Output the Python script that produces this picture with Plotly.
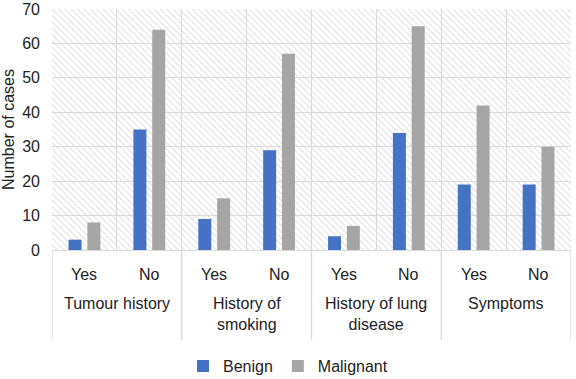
import plotly.graph_objects as go

groups = ["Tumour history", "History of<br>smoking", "History of lung<br>disease", "Symptoms"]
answers = ["Yes", "No"]
benign = [3, 35, 9, 29, 4, 34, 19, 19]
malignant = [8, 64, 15, 57, 7, 65, 42, 30]
y_ticks = [0, 10, 20, 30, 40, 50, 60, 70]

n = len(benign)
xs = list(range(n))
FONT = "Liberation Sans, Arial, sans-serif"
FS = 16

fig = go.Figure()

# hatched plot background
fig.add_trace(go.Bar(
    x=[(n - 1) / 2], y=[max(y_ticks)], width=[n], base=[0],
    marker=dict(color="#DCDCDC", line=dict(width=0),
                pattern=dict(shape="\\", size=4.5, solidity=0.22, fillmode="replace")),
    showlegend=False, hoverinfo="skip"))

fig.add_trace(go.Bar(
    x=xs, y=benign, name="Benign", width=0.2, offset=-0.245,
    marker=dict(color="#4472C4", line=dict(width=0))))
fig.add_trace(go.Bar(
    x=xs, y=malignant, name="Malignant", width=0.2, offset=0.045,
    marker=dict(color="#A5A5A5", line=dict(width=0))))

annotations = []
for i in range(n):
    annotations.append(dict(x=i, y=0, xref="x", yref="paper", yanchor="middle",
                            yshift=-24, text=answers[i % 2], showarrow=False,
                            font=dict(size=FS, color="#222", family=FONT)))
for g, label in enumerate(groups):
    annotations.append(dict(x=2 * g + 0.5, y=0, xref="x", yref="paper", yanchor="top",
                            yshift=-43, text=label, showarrow=False,
                            font=dict(size=FS, color="#222", family=FONT)))

shapes = []
for b in [-0.5, 1.5, 3.5, 5.5, 7.5]:
    shapes.append(dict(type="line", xref="x", yref="paper", x0=b, x1=b, y0=0, y1=-0.372,
                       line=dict(color="#D9D9D9", width=1.3)))

fig.update_layout(
    width=576, height=379,
    margin=dict(l=52, r=5, t=9, b=129, autoexpand=False),
    paper_bgcolor="white", plot_bgcolor="white",
    barmode="overlay",
    font=dict(family=FONT, size=FS, color="#222"),
    xaxis=dict(range=[-0.5, n - 0.5], tickmode="linear", tick0=-0.5, dtick=1,
               showticklabels=False, showgrid=True, gridcolor="#D9D9D9", gridwidth=1.3,
               zeroline=False, showline=True, linecolor="#D9D9D9", linewidth=1.3),
    yaxis=dict(range=[0, 70], tickvals=y_ticks, showgrid=True, gridcolor="#D9D9D9",
               gridwidth=1.3, zeroline=False, ticks="", ticklabelstandoff=11,
               automargin=False,
               title=dict(text="Number of cases", font=dict(size=FS), standoff=6),
               tickfont=dict(size=FS)),
    legend=dict(orientation="h", xref="container", yref="container", x=0.5, y=0.034,
                xanchor="center", yanchor="middle", font=dict(size=FS),
                itemwidth=30, tracegroupgap=0),
    annotations=annotations, shapes=shapes,
)

fig.write_html("out.html", config={"displayModeBar": False},
               post_script="document.body.style.margin='0';document.body.style.overflow='hidden';")
